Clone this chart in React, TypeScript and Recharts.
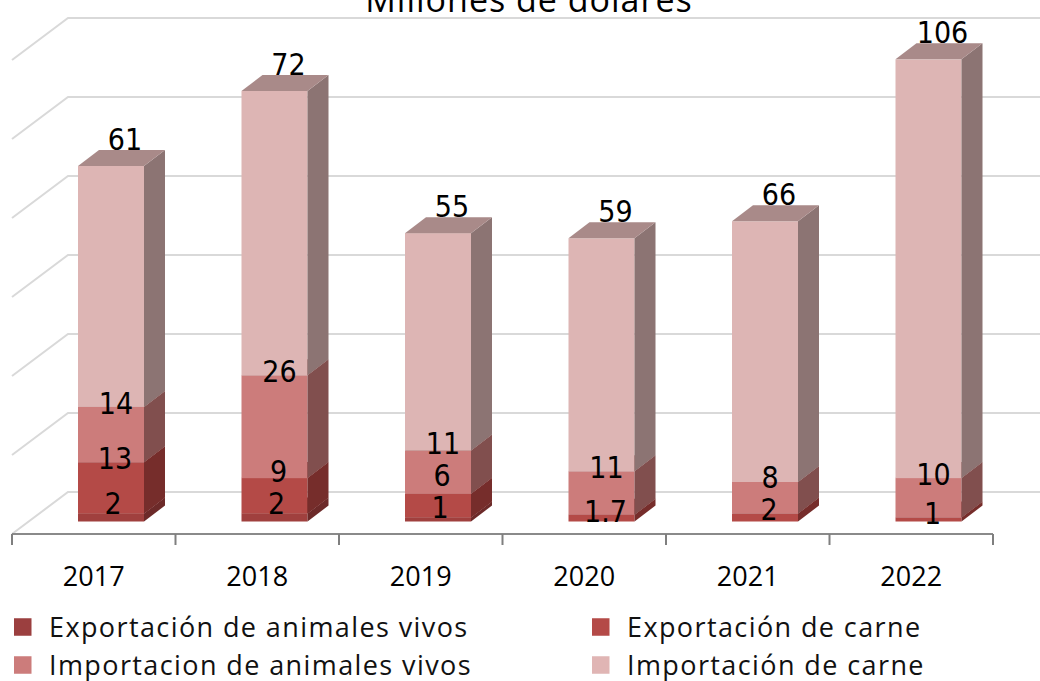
import React from 'react';
import { BarChart, Bar, XAxis, YAxis, CartesianGrid, LabelList } from 'recharts';

// ---------- data ----------
const years = ['2017', '2018', '2019', '2020', '2021', '2022'];
const expAnimalesVivos = [2, 2, 1, 0, 0, 0];
const expCarne = [13, 9, 6, 1.7, 2, 1];
const impAnimalesVivos = [14, 26, 11, 11, 8, 10];
const impCarne = [61, 72, 55, 59, 66, 106];
const yTicks = [0, 20, 40, 60, 80, 100, 120];
const seriesNames = [
  'Exportación de animales vivos',
  'Exportación de carne',
  'Importacion de animales vivos',
  'Importación de carne',
];
const title = 'Millones de dólares';

// ---------- layout / style ----------
const W = 1040;
const H = 681;
const X_AXIS_H = 40;
const MARGIN = { top: 60, right: 47, bottom: 147 - X_AXIS_H, left: 12 };
const BAND = (W - MARGIN.left - MARGIN.right) / years.length;
const OX = 17; // bar front face offset from front plane
const OY = 12.5;
const DX = 21; // bar depth
const DY = 16;
const WX = 56; // wall depth
const WY = 42;
const LABEL_FS = 30;
const LABEL_GAP = 32; // min vertical distance between stacked labels
const LABEL_FONT = "'Liberation Sans Narrow', 'DejaVu Sans Condensed', 'Open Sans', sans-serif";
const TEXT_FONT = "'Open Sans', 'Noto Sans', sans-serif";

const SERIES = [
  { key: 'eav', name: seriesNames[0], values: expAnimalesVivos, front: '#A0403E', side: '#6C2A29', top: '#7E3331', legend: '#9B3F3F', ldx: 2, ldy: -10 },
  { key: 'ec', name: seriesNames[1], values: expCarne, front: '#B44A47', side: '#762D2B', top: '#8A3A38', legend: '#B44A47', ldx: 4, ldy: -4 },
  { key: 'iav', name: seriesNames[2], values: impAnimalesVivos, front: '#CC7C7B', side: '#814F4E', top: '#9A6463', legend: '#CC7C7B', ldx: 5, ldy: -4 },
  { key: 'ic', name: seriesNames[3], values: impCarne, front: '#DDB5B4', side: '#8C7473', top: '#A98A89', legend: '#E0B5B4', ldx: 14, ldy: -27 },
];

const data = years.map((year, i) => {
  const row: Record<string, any> = { year };
  SERIES.forEach((s) => {
    row[s.key] = s.values[i];
  });
  return row;
});

const make3DShape = (s: any) => (props: any) => {
  const { x, y, width, height } = props;
  if (!height || !isFinite(height) || height <= 0) return null;
  const fx = x + OX;
  const fy = y - OY;
  const r = fx + width;
  const b = fy + height;
  return (
    <g>
      <rect x={fx} y={fy} width={width} height={height} fill={s.front} />
      <polygon points={`${r},${b} ${r + DX},${b - DY} ${r + DX},${fy - DY} ${r},${fy}`} fill={s.side} />
      <polygon points={`${fx},${fy} ${r},${fy} ${r + DX},${fy - DY} ${fx + DX},${fy - DY}`} fill={s.top} />
    </g>
  );
};

// Labels are all drawn from the top series so that they sit above every segment.
const TOP = SERIES.length - 1;
const labelCentre = (k: number, i: number, base: number, unit: number): number => {
  let cum = 0;
  for (let j = 0; j <= k; j++) cum += SERIES[j].values[i];
  const own = base - unit * cum - OY + SERIES[k].ldy;
  if (k === TOP) return own;
  // stay clear of the label of the segment below
  for (let j = k - 1; j >= 0; j--) {
    if (SERIES[j].values[i]) {
      return Math.min(own, labelCentre(j, i, base, unit) - LABEL_GAP);
    }
  }
  return own;
};

const makeLabel = (k: number) => (props: any) => {
  const vb = props.viewBox ?? props;
  const x = vb.x;
  const y = vb.y;
  const width = vb.width;
  const height = vb.height;
  const i = props.index;
  const v = props.value;
  if (v === undefined || v === null || Number(v) === 0 || i === undefined) return null;
  const topVal = SERIES[TOP].values[i];
  const unit = height / topVal;
  let lower = 0;
  for (let j = 0; j < TOP; j++) lower += SERIES[j].values[i];
  const base = y + height + unit * lower;
  const cx = x + width / 2 + OX + SERIES[k].ldx;
  const cy = labelCentre(k, i, base, unit);
  return (
    <text
      x={cx}
      y={cy + 0.36 * LABEL_FS}
      textAnchor="middle"
      fontSize={LABEL_FS}
      fontFamily={LABEL_FONT}
      fill="#000"
    >
      {String(v)}
    </text>
  );
};

const renderTick = (props: any) => {
  const { x, y, payload, index } = props;
  const half = payload && payload.offset > 0 ? payload.offset : BAND / 2;
  const isLast = index === years.length - 1;
  return (
    <g>
      <line x1={x - half} y1={y} x2={x - half} y2={y + 11} stroke="#7f7f7f" strokeWidth={2} />
      {isLast && <line x1={x + half} y1={y} x2={x + half} y2={y + 11} stroke="#7f7f7f" strokeWidth={2} />}
      <text x={x} y={y + 51.5} textAnchor="middle" fontSize={27} fontFamily={TEXT_FONT} fill="#000">
        {payload.value}
      </text>
    </g>
  );
};

const renderGridLine = (p: any) => {
  const { x1, y1, x2 } = p;
  return (
    <path
      key={p.key ?? `g-${p.index}`}
      d={`M${x1},${y1} L${x1 + WX},${y1 - WY} L${x2 + WX},${y1 - WY}`}
      fill="none"
      stroke="#d9d9d9"
      strokeWidth={2}
    />
  );
};

export default function App() {
  return (
    <div style={{ position: 'absolute', left: 0, top: 0, width: W, height: H, background: '#fff' }}>
      <BarChart width={W} height={H} data={data} margin={MARGIN} barSize={66}>
        <CartesianGrid vertical={false} horizontal={renderGridLine} />
        <YAxis hide type="number" domain={[0, 120]} ticks={yTicks} />
        <XAxis
          dataKey="year"
          height={X_AXIS_H}
          interval={0}
          tickLine={false}
          tickSize={0}
          tickMargin={0}
          axisLine={{ stroke: '#8a8a8a', strokeWidth: 2 }}
          tick={renderTick}
        />
        {SERIES.map((s, k) => (
          <Bar
            key={s.key}
            dataKey={s.key}
            name={s.name}
            stackId="a"
            fill={s.front}
            shape={make3DShape(s)}
            isAnimationActive={false}
          >
            {k === TOP &&
              SERIES.map((ls, lk) => (
                <LabelList key={ls.key} dataKey={ls.key} content={makeLabel(lk)} />
              ))}
          </Bar>
        ))}
      </BarChart>
      <svg
        width={W}
        height={H}
        style={{ position: 'absolute', left: 0, top: 0, pointerEvents: 'none' }}
      >
        <text x={529} y={12} textAnchor="middle" fontSize={34} letterSpacing={1} fontFamily={TEXT_FONT} fill="#000">
          {title}
        </text>
        {SERIES.map((s, k) => {
          const col = k % 2;
          const row = Math.floor(k / 2);
          const mx = col ? 592 : 14;
          const cy = row ? 665 : 627;
          return (
            <g key={s.key}>
              <rect x={mx} y={cy - 8.75} width={17.5} height={17.5} fill={s.legend} />
              <text
                x={mx + 35}
                y={cy + 0.357 * 27}
                fontSize={27}
                letterSpacing={1.4}
                fontFamily={TEXT_FONT}
                fill="#111"
              >
                {s.name}
              </text>
            </g>
          );
        })}
      </svg>
    </div>
  );
}
